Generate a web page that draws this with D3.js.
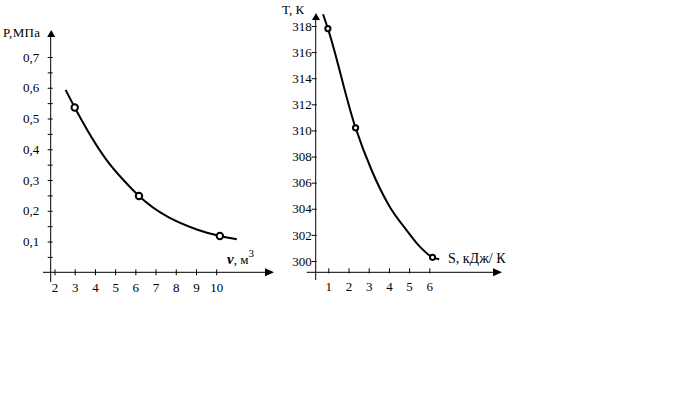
<!DOCTYPE html>
<html><head><meta charset="utf-8">
<script src="https://cdn.jsdelivr.net/npm/d3@7"></script>
<style>
html,body{margin:0;padding:0;background:#fff;}
svg text{font-family:"Liberation Serif","Times New Roman","DejaVu Serif",serif !important;}
</style></head>
<body>
<svg id="c" width="699" height="396"></svg>
<script>
// ---- Data: left chart (P–v) ----
const pvTicksX = [2,3,4,5,6,7,8,9,10];
const pvTicksY = [0.05,0.1,0.15,0.2,0.25,0.3,0.35,0.4,0.45,0.5,0.55,0.6,0.65,0.7];
const pvCurveV = [2.55,3.0,4.58,5.41,6.18,9.04,10.18,11.02];
const pvCurveP = [0.593,0.536,0.365,0.300,0.248,0.139,0.118,0.1075];
const pvPointsV = [3.0,6.18,10.18];
const pvPointsP = [0.536,0.248,0.118];

// ---- Data: right chart (T–S) ----
const tsTicksX = [1,2,3,4,5,6];
const tsTicksY = [300,302,304,306,308,310,312,314,316,318];
const tsCurveS = [0.74,0.98,2.35,3.14,4.04,4.87,5.53,6.16,6.49];
const tsCurveT = [318.9,317.8,310.2,306.97,304.16,302.37,301.1,300.28,300.13];
const tsPointsS = [0.98,2.35,6.16];
const tsPointsT = [317.8,310.2,300.28];

const svg = d3.select("#c");
svg.append("rect").attr("width",699).attr("height",396).attr("fill","#fff");

function arrowUp(g,x,yTip){
  g.append("path").attr("d",`M${x},${yTip} L${x-4},${yTip+7} L${x+4},${yTip+7} Z`).attr("fill","#000");
}
function arrowRight(g,xTip,y){
  g.append("path").attr("d",`M${xTip},${y} L${xTip-9},${y-4} L${xTip-9},${y+4} Z`).attr("fill","#000");
}

// ================= LEFT =================
{
  const x = d3.scaleLinear().domain([2,10]).range([54.5,216.2]);
  const y = d3.scaleLinear().domain([0,0.7]).range([272.3,57]);
  const axX = 50.7, axY = 272.3;
  const g = svg.append("g");

  g.append("line").attr("x1",axX).attr("x2",axX).attr("y1",282).attr("y2",36).attr("stroke","#000").attr("stroke-width",1);
  arrowUp(g,axX+0.5,30);
  g.append("line").attr("x1",43).attr("x2",266).attr("y1",axY).attr("y2",axY).attr("stroke","#000").attr("stroke-width",1);
  arrowRight(g,274,axY);

  const fmt = v => d3.format(".1f")(v).replace(".",",");
  const yAx = g.append("g").attr("transform",`translate(${axX},0)`)
    .call(d3.axisLeft(y).tickValues(pvTicksY).tickSize(3).tickPadding(8.5)
      .tickFormat(v => (Math.round(v*100)%10===0) ? fmt(v) : ""));
  yAx.select(".domain").remove();
  yAx.selectAll(".tick line").attr("x1",2);
  yAx.selectAll("text").attr("font-size",13);

  const xAx = g.append("g").attr("transform",`translate(0,${axY})`)
    .call(d3.axisBottom(x).tickValues(pvTicksX).tickSize(3).tickPadding(7.5).tickFormat(d3.format("d")));
  xAx.select(".domain").remove();
  xAx.selectAll(".tick line").attr("y1",-3);
  xAx.selectAll("text").attr("font-size",13);

  const line = d3.line().x(d=>x(d[0])).y(d=>y(d[1])).curve(d3.curveMonotoneX);
  g.append("path").datum(pvCurveV.map((v,i)=>[v,pvCurveP[i]]))
    .attr("d",line).attr("fill","none").attr("stroke","#000").attr("stroke-width",2);
  g.selectAll("circle.p").data(pvPointsV.map((v,i)=>[v,pvPointsP[i]])).join("circle")
    .attr("cx",d=>x(d[0])).attr("cy",d=>y(d[1])).attr("r",3.2)
    .attr("fill","#fff").attr("stroke","#000").attr("stroke-width",2);

  g.append("text").attr("x",3).attr("y",37).attr("font-size",13).attr("letter-spacing",0.3).text("P,МПа");
  const lab = g.append("text").attr("x",227).attr("y",264).attr("font-size",13);
  lab.append("tspan").attr("font-style","italic").attr("font-weight","bold").attr("font-size",15).text("v");
  lab.append("tspan").text(", м");
  lab.append("tspan").attr("dy",-7).attr("font-size",11).text("3");
}

// ================= RIGHT =================
{
  const x = d3.scaleLinear().domain([1,6]).range([328.3,429.3]);
  const y = d3.scaleLinear().domain([300,318]).range([261,26]);
  const axX = 315.7, axY = 272.3;
  const g = svg.append("g");

  g.append("line").attr("x1",axX).attr("x2",axX).attr("y1",280).attr("y2",19).attr("stroke","#000").attr("stroke-width",1);
  arrowUp(g,axX+0.3,13);
  g.append("line").attr("x1",306.7).attr("x2",495).attr("y1",axY).attr("y2",axY).attr("stroke","#000").attr("stroke-width",1);
  arrowRight(g,502,axY);

  const yAx = g.append("g").attr("transform",`translate(${axX},0)`)
    .call(d3.axisLeft(y).tickValues(tsTicksY).tickSize(4).tickPadding(0).tickFormat(d3.format("d")));
  yAx.select(".domain").remove();
  yAx.selectAll(".tick line").attr("x1",1);
  yAx.selectAll("text").attr("font-size",13);

  const xAx = g.append("g").attr("transform",`translate(0,${axY})`)
    .call(d3.axisBottom(x).tickValues(tsTicksX).tickSize(2).tickPadding(7.5).tickFormat(d3.format("d")));
  xAx.select(".domain").remove();
  xAx.selectAll(".tick line").attr("y1",-4).attr("y2",1);
  xAx.selectAll("text").attr("font-size",13);

  const line = d3.line().x(d=>x(d[0])).y(d=>y(d[1])).curve(d3.curveMonotoneX);
  g.append("path").datum(tsCurveS.map((v,i)=>[v,tsCurveT[i]]))
    .attr("d",line).attr("fill","none").attr("stroke","#000").attr("stroke-width",2);
  g.selectAll("circle.p").data(tsPointsS.map((v,i)=>[v,tsPointsT[i]])).join("circle")
    .attr("cx",d=>x(d[0])).attr("cy",d=>y(d[1])).attr("r",2.6)
    .attr("fill","#fff").attr("stroke","#000").attr("stroke-width",2);

  g.append("text").attr("x",282).attr("y",14).attr("font-size",13).text("T, К");
  g.append("text").attr("x",448).attr("y",263).attr("font-size",14).text("S, кДж/ К");
}
</script>
</body></html>
